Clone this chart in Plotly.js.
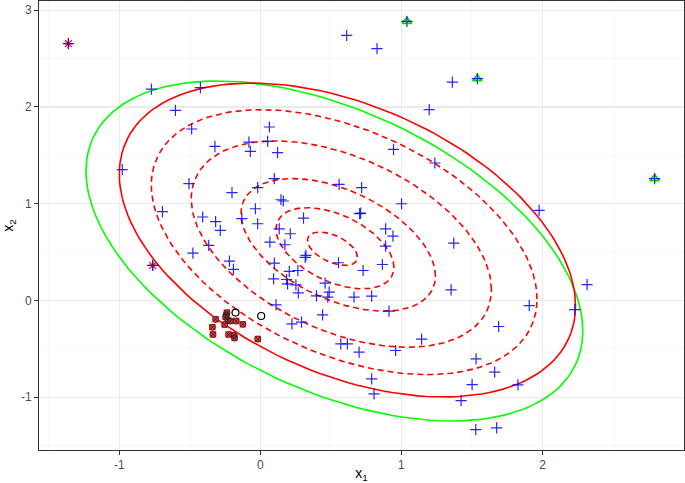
<!DOCTYPE html>
<html><head><meta charset="utf-8">
<script src="https://cdn.plot.ly/plotly-3.0.1.min.js"></script>
<style>html,body{margin:0;padding:0;background:#fff}</style>
</head><body><div id="chart" style="width:685px;height:483px"></div>
<script>
// Blue "+" observations
const blueX = [-1.361,-0.763,0.612,0.827,1.039,1.361,1.538,1.197,0.944,1.237,2.795,-0.772,-0.425,-0.602,-0.487,-0.322,-0.081,-0.979,-0.506,-0.201,-0.694,-0.409,-0.317,-0.284,-0.131,-0.366,
  0.064,0.052,-0.071,0.122,-0.019,0.099,0.146,0.163,-0.035,-0.019,-0.478,-0.219,-0.191,0.134,0.212,0.068,0.174,0.306,0.323,0.318,0.099,0.205,0.266,0.094,0.186,0.193,0.252,0.269,0.398,0.459,0.488,0.478,0.554,0.664,0.789,0.728,0.865,0.888,0.940,0.888,0.704,0.711,0.718,0.558,1.001,1.371,1.352,1.976,1.906,1.689,1.529,1.661,1.501,1.826,1.423,1.143,0.959,0.912,0.700,0.570,0.617,0.789,0.806,0.441,0.224,0.292,0.111,2.316,2.229,1.527,1.675];
const blueY = [2.654,0.362,2.740,2.602,2.884,2.257,2.292,1.972,1.562,1.421,1.259,2.185,2.199,1.965,1.772,1.593,1.637,1.352,1.208,1.114,0.918,0.863,0.815,0.725,0.846,0.570,
  1.793,1.645,1.541,1.528,1.166,1.259,1.041,1.028,0.948,0.793,0.490,0.407,0.321,0.741,0.690,0.603,0.576,0.852,0.466,0.445,0.386,0.300,0.310,0.224,0.217,0.172,0.162,0.079,0.048,0.179,0.086,0.034,0.390,0.034,0.045,0.310,0.372,0.562,0.666,0.741,0.897,0.903,1.166,1.200,1.000,0.593,0.110,0.931,-0.052,-0.269,-0.603,-0.741,-0.869,-0.872,-1.034,-0.400,-0.517,-0.110,-0.534,-0.448,-0.448,-0.810,-0.966,-0.148,-0.241,-0.224,-0.045,0.164,-0.094,-1.334,-1.317];

// Cluster of flagged points (red squares with crossed circle)
const clusterX = [-0.237,-0.317,-0.340,-0.336,-0.246,-0.253,-0.213,-0.171,-0.124,-0.225,-0.187,-0.183,-0.018,-0.241,-0.230];
const clusterY = [-0.125,-0.194,-0.276,-0.351,-0.170,-0.249,-0.212,-0.212,-0.246,-0.351,-0.359,-0.387,-0.398,-0.150,-0.205];
// Black open circles
const circleX = [-0.176, 0.006];
const circleY = [-0.125, -0.160];
// Red asterisks
const starX = [-1.361, -0.763];
const starY = [2.654, 0.362];
// Green triangles
const triX = [1.039, 1.538, 2.795];
const triY = [2.884, 2.292, 1.259];

// Contour ellipses: centre, half-extent in x and y, correlation
const redDashCx = [0.511, 0.529, 0.552, 0.574, 0.594];
const redDashCy = [0.535, 0.540, 0.575, 0.583, 0.603];
const redDashA  = [0.177, 0.418, 0.689, 1.064, 1.367];
const redDashB  = [0.173, 0.419, 0.685, 1.066, 1.369];
const redDashRho = [-0.50, -0.47, -0.47, -0.44, -0.43];
const redSolid = {cx: 0.617, cy: 0.625, a: 1.617, b: 1.622, rho: -0.42};
const greenEll = {cx: 0.525, cy: 0.5115, a: 1.761, b: 1.7565, rho: -0.47};

const xTicks = [-1, 0, 1, 2];
const xTickText = ["-1", "0", "1", "2"];
const yTicks = [-1, 0, 1, 2, 3];
const yTickText = ["-1", "0", "1", "2", "3"];

function ellipse(cx, cy, a, b, rho) {
  const n = 160, xs = [], ys = [];
  const s = Math.sqrt(1 - rho * rho);
  for (let i = 0; i <= n; i++) {
    const t = 2 * Math.PI * i / n;
    xs.push(cx + a * Math.cos(t));
    ys.push(cy + b * (rho * Math.cos(t) + s * Math.sin(t)));
  }
  return {x: xs, y: ys};
}

const traces = [];
const g = ellipse(greenEll.cx, greenEll.cy, greenEll.a, greenEll.b, greenEll.rho);
traces.push({x: g.x, y: g.y, mode: 'lines', line: {color: '#00FF00', width: 1.6}, hoverinfo: 'skip'});
const r = ellipse(redSolid.cx, redSolid.cy, redSolid.a, redSolid.b, redSolid.rho);
traces.push({x: r.x, y: r.y, mode: 'lines', line: {color: '#FF0000', width: 1.6}, hoverinfo: 'skip'});
for (let k = 0; k < redDashCx.length; k++) {
  const e = ellipse(redDashCx[k], redDashCy[k], redDashA[k], redDashB[k], redDashRho[k]);
  traces.push({x: e.x, y: e.y, mode: 'lines', line: {color: '#FF0000', width: 1.6, dash: '6px,4px'}, hoverinfo: 'skip'});
}
traces.push({x: triX, y: triY, mode: 'markers', marker: {symbol: 'triangle-up-open', size: 8, color: '#00DD00', line: {width: 1.8, color: '#33DD33'}}});
traces.push({x: starX, y: starY, mode: 'markers', marker: {symbol: 'asterisk-open', size: 8, color: '#FF0000', line: {width: 1.2, color: '#FF2222'}}});
traces.push({x: clusterX, y: clusterY, mode: 'markers', marker: {symbol: 'square', size: 6.5, color: '#FF3030'}});
traces.push({x: clusterX, y: clusterY, mode: 'markers', marker: {symbol: 'circle-x-open', size: 6, color: '#222222', line: {width: 0.8, color: '#222222'}}});
traces.push({x: circleX, y: circleY, mode: 'markers', marker: {symbol: 'circle-open', size: 7, color: '#000000', line: {width: 1.2, color: '#000000'}}});
traces.push({x: blueX, y: blueY, mode: 'markers', marker: {symbol: 'cross-thin-open', size: 8, color: 'rgba(0,0,255,0.85)', line: {width: 1.2, color: 'rgba(0,0,255,0.85)'}}});

const axisCommon = {
  showline: true, mirror: true, linecolor: '#333333', linewidth: 1,
  ticks: 'outside', ticklen: 4, tickcolor: '#333333', tickwidth: 1,
  showgrid: true, gridcolor: '#EBEBEB', gridwidth: 1.1, zeroline: false,
  tickfont: {family: 'Liberation Sans, Arial, sans-serif', size: 12, color: '#4D4D4D'},
  minor: {showgrid: true, gridcolor: '#F2F2F2', gridwidth: 0.6, dtick: 0.5, ticks: ''}
};

const layout = {
  width: 685, height: 483,
  margin: {l: 39, r: 1, t: 1, b: 33},
  paper_bgcolor: '#FFFFFF', plot_bgcolor: '#FFFFFF',
  showlegend: false,
  xaxis: Object.assign({}, axisCommon, {
    range: [-1.569, 3.003], tickmode: 'array', tickvals: xTicks, ticktext: xTickText,
    title: {text: 'x<sub>1</sub>', standoff: 2, font: {family: 'Liberation Sans, Arial, sans-serif', size: 14, color: '#000000'}},
    automargin: false
  }),
  yaxis: Object.assign({}, axisCommon, {
    range: [-1.545, 3.095], tickmode: 'array', tickvals: yTicks, ticktext: yTickText,
    title: {text: 'x<sub>2</sub>', standoff: 6, font: {family: 'Liberation Sans, Arial, sans-serif', size: 14, color: '#000000'}},
    automargin: false
  })
};
Plotly.newPlot('chart', traces, layout, {displayModeBar: false, staticPlot: true});
</script></body></html>
